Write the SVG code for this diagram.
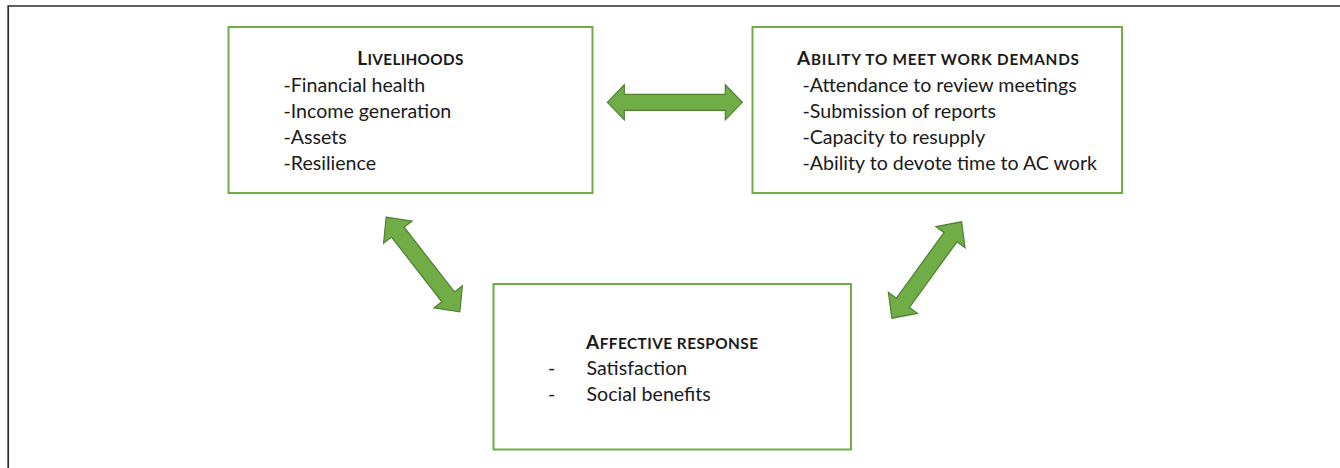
<svg xmlns="http://www.w3.org/2000/svg" width="1340" height="468" viewBox="0 0 1340 468">
  <style>
    .box { fill: #ffffff; stroke: #70ad47; stroke-width: 2; }
    .arrow { fill: #70ad47; stroke: #507e32; stroke-width: 1.2; stroke-linejoin: miter; }
    .title { font-family: Lato, "Open Sans", sans-serif; font-weight: bold; fill: #1a1a1a; }
    .big { font-size: 19px; }
    .small { font-size: 15.3px; }
    .body { font-family: Lato, "Open Sans", sans-serif; font-size: 19.6px; fill: #1a1a1a; }
  </style>

  <!-- page frame -->
  <path d="M8.2,468 V6 H1340" fill="none" stroke="#2b2b2b" stroke-width="1.7"/>

  <!-- nodes -->
  <g id="livelihoods">
    <rect class="box" x="228.5" y="27" width="364" height="166"/>
    <text class="title" x="357.3" y="65" textLength="106" lengthAdjust="spacing"><tspan class="big">L</tspan><tspan class="small">IVELIHOODS</tspan></text>
    <text class="body" x="283.5" y="91.8">-Financial health</text>
    <text class="body" x="283.5" y="117.8">-Income generation</text>
    <text class="body" x="283.5" y="143.8">-Assets</text>
    <text class="body" x="283.5" y="169.8">-Resilience</text>
  </g>

  <g id="work-demands">
    <rect class="box" x="752.5" y="27" width="369.5" height="166"/>
    <text class="title" x="797" y="65" textLength="282" lengthAdjust="spacing"><tspan class="big">A</tspan><tspan class="small">BILITY TO MEET WORK DEMANDS</tspan></text>
    <text class="body" x="802.5" y="91.8">-Attendance to review meetings</text>
    <text class="body" x="802.5" y="117.8">-Submission of reports</text>
    <text class="body" x="802.5" y="143.8">-Capacity to resupply</text>
    <text class="body" x="802.5" y="169.8">-Ability to devote time to AC work</text>
  </g>

  <g id="affective-response">
    <rect class="box" x="493.5" y="284" width="357.5" height="165.5"/>
    <text class="title" x="586" y="348.5" textLength="172" lengthAdjust="spacing"><tspan class="big">A</tspan><tspan class="small">FFECTIVE RESPONSE</tspan></text>
    <text class="body" x="548" y="375">-</text>
    <text class="body" x="586.5" y="375">Satisfaction</text>
    <text class="body" x="548" y="401">-</text>
    <text class="body" x="586.5" y="401">Social benefits</text>
  </g>

  <!-- connectors: block double arrows -->
  <g id="connectors">
    <polygon class="arrow" transform="translate(674.8,102.3)"
      points="-67.5,0 -50.5,-17.5 -50.5,-8 50.5,-8 50.5,-17.5 67.5,0 50.5,17.5 50.5,8 -50.5,8 -50.5,17.5"/>
    <polygon class="arrow" transform="translate(423,264.5) rotate(52.1)"
      points="-60,0 -41,-18 -41,-8 41,-8 41,-18 60,0 41,18 41,8 -41,8 -41,18"/>
    <polygon class="arrow" transform="translate(926.7,270) rotate(-54.1)"
      points="-59.5,0 -40.5,-18 -40.5,-8 40.5,-8 40.5,-18 59.5,0 40.5,18 40.5,8 -40.5,8 -40.5,18"/>
  </g>
</svg>
